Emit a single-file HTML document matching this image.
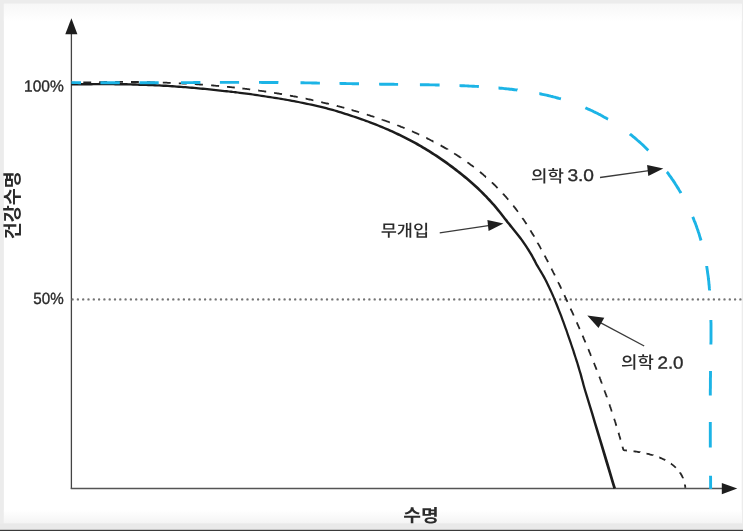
<!DOCTYPE html>
<html lang="ko"><head><meta charset="utf-8"><title>건강수명</title>
<style>
html,body{margin:0;padding:0;background:#fff;}
body{width:743px;height:531px;overflow:hidden;position:relative;font-family:"Liberation Sans","Noto Sans CJK KR",sans-serif;}
svg{position:absolute;left:0;top:0;display:block}
text{font-family:"Liberation Sans","Noto Sans CJK KR",sans-serif;fill:#2b2b2b}
</style></head><body>
<svg width="743" height="531" viewBox="0 0 743 531">
<defs>
<linearGradient id="gt" x1="0" y1="0" x2="0" y2="1"><stop offset="0" stop-color="#f7f7f7"/><stop offset="1" stop-color="#ffffff"/></linearGradient>
<linearGradient id="gb" x1="0" y1="0" x2="0" y2="1"><stop offset="0" stop-color="#ffffff"/><stop offset="1" stop-color="#f4f4f4"/></linearGradient>
</defs>
<rect x="0" y="0" width="743" height="531" fill="#ececec"/>
<rect x="3.9" y="3.8" width="737.8" height="519.6" fill="#ffffff"/>
<rect x="3.9" y="3.8" width="737.8" height="17.5" fill="url(#gt)"/>
<rect x="3.9" y="510" width="737.8" height="13.4" fill="url(#gb)"/>
<rect x="0" y="523.4" width="743" height="6" fill="#e9e9e9"/>
<rect x="0" y="529.8" width="743" height="1.2" fill="#3a3a3a"/>

<!-- axes -->
<line x1="71.4" y1="33" x2="71.4" y2="489" stroke="#444" stroke-width="1.3"/>
<polygon points="71.4,18.2 65.3,34.3 77.4,34.3" fill="#1e1e1e"/>
<line x1="70.8" y1="488.5" x2="723" y2="488.5" stroke="#555" stroke-width="1.5"/>
<polygon points="737.3,488.6 721.8,483.0 721.8,494.3" fill="#1e1e1e"/>

<!-- 50% dotted -->
<line x1="72.6" y1="299.4" x2="743" y2="299.4" stroke="#747474" stroke-width="2.4" stroke-linecap="round" stroke-dasharray="0 5.3"/>

<!-- curves -->
<path d="M71.4,82.8 L71.7,82.8 L72.6,82.7 L73.6,82.7 L74.6,82.7 L75.3,82.6 M83.3,82.4 L83.3,82.4 L84.3,82.4 L85.3,82.4 L86.3,82.4 L87.3,82.3 L88.3,82.3 L89.3,82.3 L90.3,82.3 L91.2,82.3 M99.2,82.1 L99.3,82.1 L100.3,82.1 L101.2,82.1 L102.2,82.1 L103.2,82.1 L104.2,82.0 L105.2,82.0 L106.2,82.0 L107.1,82.0 M115.1,82.0 L115.2,82.0 L116.2,81.9 L117.2,81.9 L118.1,81.9 L119.1,81.9 L120.1,81.9 L121.1,81.9 L122.1,81.9 L123.0,81.9 M131.0,82.0 L131.1,82.0 L132.1,82.0 L133.0,82.0 L134.0,82.0 L135.0,82.0 L136.0,82.0 L137.0,82.0 L138.0,82.0 L138.9,82.1 M146.9,82.2 L146.9,82.2 L147.9,82.2 L148.9,82.2 L149.9,82.2 L150.9,82.3 L151.9,82.3 L152.9,82.3 L153.9,82.3 L154.8,82.4 M162.8,82.6 L162.8,82.6 L163.8,82.6 L164.8,82.7 L165.8,82.7 L166.8,82.7 L167.7,82.8 L168.7,82.8 L169.7,82.9 L170.7,82.9 L170.7,82.9 M178.8,83.3 L178.9,83.3 L179.9,83.3 L180.8,83.4 L181.8,83.4 L182.8,83.5 L183.8,83.5 L184.8,83.6 L185.8,83.6 L186.8,83.7 L186.8,83.7 M194.8,84.2 L194.9,84.2 L195.9,84.2 L196.9,84.3 L197.9,84.4 L198.9,84.4 L199.9,84.5 L200.8,84.6 L201.8,84.6 L202.8,84.7 L202.9,84.7 M211.1,85.4 L211.2,85.4 L212.2,85.4 L213.2,85.5 L214.1,85.6 L215.1,85.7 L216.1,85.8 L217.1,85.9 L218.1,85.9 L219.1,86.0 L219.1,86.0 M227.0,86.8 L227.2,86.8 L228.2,86.9 L229.1,87.0 L230.1,87.1 L231.1,87.2 L232.1,87.3 L233.1,87.4 L234.1,87.5 L234.8,87.6 M242.4,88.5 L242.4,88.5 L243.4,88.6 L244.4,88.7 L245.3,88.8 L246.3,88.9 L247.3,89.1 L248.3,89.2 L249.3,89.3 L250.2,89.4 L250.2,89.4 M258.2,90.5 L258.3,90.5 L259.3,90.7 L260.3,90.8 L261.2,90.9 L262.2,91.1 L263.2,91.2 L264.2,91.4 L265.1,91.5 L266.1,91.7 L266.2,91.7 M274.1,92.9 L274.2,92.9 L275.1,93.1 L276.1,93.2 L277.1,93.4 L278.1,93.5 L279.0,93.7 L280.0,93.9 L281.0,94.0 L282.0,94.2 L282.0,94.2 M289.9,95.6 L290.0,95.6 L291.0,95.8 L291.9,96.0 L292.9,96.2 L293.9,96.3 L294.8,96.5 L295.8,96.7 L296.8,96.9 L297.7,97.1 M305.6,98.7 L305.8,98.7 L306.7,98.9 L307.7,99.1 L308.7,99.3 L309.6,99.5 L310.6,99.7 L311.6,99.9 L312.5,100.2 L313.4,100.3 M321.2,102.1 L321.2,102.1 L322.2,102.3 L323.1,102.6 L324.1,102.8 L325.1,103.0 L326.0,103.3 L327.0,103.5 L328.0,103.7 L328.9,104.0 L328.9,104.0 M336.7,105.9 L336.9,106.0 L337.8,106.2 L338.8,106.5 L339.8,106.7 L340.7,107.0 L341.7,107.2 L342.6,107.5 L343.6,107.7 L344.3,107.9 M351.6,110.0 L351.7,110.0 L352.7,110.3 L353.7,110.6 L354.6,110.8 L355.6,111.1 L356.5,111.4 L357.5,111.7 L358.4,112.0 L359.1,112.2 M366.8,114.5 L366.8,114.5 L367.7,114.8 L368.7,115.1 L369.6,115.4 L370.6,115.8 L371.6,116.1 L372.5,116.4 L373.4,116.7 L374.4,117.0 L374.4,117.0 M382.2,119.6 L382.2,119.7 L383.1,120.0 L384.1,120.3 L385.0,120.7 L386.0,121.0 L386.9,121.3 L387.8,121.7 L388.8,122.0 L389.7,122.4 L389.8,122.4 M397.2,125.2 L397.4,125.3 L398.4,125.7 L399.3,126.0 L400.2,126.4 L401.1,126.8 L402.1,127.1 L403.0,127.5 L403.9,127.9 L404.6,128.2 M411.9,131.3 L412.2,131.4 L413.1,131.8 L414.0,132.2 L414.9,132.6 L415.8,133.0 L416.7,133.4 L417.6,133.8 L418.5,134.2 L419.2,134.6 M426.3,138.0 L426.4,138.0 L427.2,138.4 L428.1,138.9 L429.0,139.3 L429.9,139.7 L430.8,140.2 L431.7,140.6 L432.5,141.1 L433.4,141.6 L433.5,141.6 M440.6,145.4 L440.6,145.4 L441.5,145.9 L442.3,146.4 L443.2,146.9 L444.1,147.4 L444.9,147.9 L445.8,148.4 L446.6,148.8 L447.5,149.3 L447.5,149.4 M454.2,153.4 L454.2,153.4 L455.0,154.0 L455.9,154.5 L456.7,155.0 L457.5,155.6 L458.3,156.1 L459.2,156.6 L460.0,157.2 L460.8,157.7 L460.8,157.8 M467.4,162.3 L467.5,162.4 L468.3,162.9 L469.1,163.5 L469.9,164.1 L470.6,164.7 L471.4,165.2 L472.2,165.8 L473.0,166.4 L473.8,167.0 L473.8,167.0 M479.9,171.9 L479.9,171.9 L480.7,172.5 L481.5,173.2 L482.2,173.8 L483.0,174.4 L483.7,175.1 L484.5,175.7 L485.2,176.3 L485.9,177.0 L486.0,177.0 M491.9,182.4 L492.0,182.5 L492.7,183.1 L493.4,183.8 L494.1,184.5 L494.8,185.2 L495.5,185.9 L496.2,186.6 L496.9,187.3 L497.6,188.0 L497.6,188.0 M503.1,193.7 L503.2,193.9 L503.9,194.6 L504.5,195.4 L505.2,196.1 L505.9,196.8 L506.5,197.6 L507.2,198.3 L507.8,199.1 L508.3,199.6 M513.3,205.7 L513.4,205.8 L514.0,206.6 L514.6,207.3 L515.2,208.1 L515.8,208.9 L516.4,209.7 L517.0,210.5 L517.6,211.3 L518.0,211.8 M522.4,218.0 L522.5,218.2 L523.1,219.0 L523.7,219.8 L524.2,220.6 L524.8,221.4 L525.3,222.3 L525.9,223.1 L526.4,223.9 L526.5,224.1 M530.4,230.3 L530.5,230.5 L531.0,231.3 L531.5,232.2 L532.0,233.0 L532.5,233.9 L533.1,234.7 L533.6,235.6 L534.1,236.4 L534.1,236.6 M537.7,242.8 L537.7,242.9 L538.2,243.8 L538.7,244.6 L539.2,245.5 L539.7,246.4 L540.2,247.2 L540.6,248.1 L541.1,249.0 L541.2,249.1 M544.6,255.6 L544.7,255.8 L545.2,256.6 L545.7,257.5 L546.1,258.4 L546.6,259.3 L547.1,260.1 L547.5,261.0 L548.0,261.9 L548.1,262.1 M551.5,268.7 L551.5,268.7 L551.9,269.6 L552.4,270.5 L552.8,271.4 L553.3,272.3 L553.7,273.1 L554.2,274.0 L554.6,274.9 L554.8,275.4 M558.1,282.1 L558.2,282.3 L558.6,283.1 L559.1,284.0 L559.5,284.9 L559.9,285.8 L560.4,286.7 L560.8,287.6 L561.2,288.5 L561.3,288.7 M564.4,295.2 L564.5,295.4 L564.9,296.3 L565.3,297.2 L565.8,298.1 L566.2,299.0 L566.6,299.9 L567.0,300.8 L567.4,301.7 L567.5,301.9 M570.6,308.7 L570.6,308.7 L571.0,309.6 L571.4,310.5 L571.9,311.4 L572.3,312.3 L572.7,313.2 L573.1,314.1 L573.5,315.0 L573.7,315.5 M576.7,322.3 L576.8,322.5 L577.2,323.4 L577.6,324.3 L578.0,325.2 L578.4,326.1 L578.8,327.0 L579.2,327.9 L579.6,328.8 L579.7,329.0 M582.6,335.7 L582.7,335.9 L583.1,336.8 L583.5,337.7 L583.8,338.6 L584.2,339.5 L584.6,340.4 L585.0,341.3 L585.4,342.2 L585.5,342.4 M588.3,349.1 L588.4,349.3 L588.8,350.2 L589.1,351.2 L589.5,352.1 L589.9,353.0 L590.3,353.9 L590.6,354.8 L591.0,355.7 L591.1,355.9 M593.9,362.9 L594.0,363.1 L594.4,364.0 L594.7,364.9 L595.1,365.8 L595.5,366.8 L595.8,367.7 L596.2,368.6 L596.5,369.5 L596.6,369.8 M599.3,376.7 L599.4,376.9 L599.8,377.8 L600.1,378.8 L600.5,379.7 L600.8,380.6 L601.2,381.6 L601.5,382.5 L601.9,383.4 L601.9,383.6 M604.4,390.4 L604.5,390.6 L604.8,391.5 L605.2,392.5 L605.5,393.4 L605.9,394.3 L606.2,395.3 L606.5,396.2 L606.9,397.1 L606.9,397.3 M609.4,404.4 L609.4,404.4 L609.7,405.3 L610.0,406.3 L610.3,407.2 L610.7,408.1 L611.0,409.1 L611.3,410.0 L611.6,411.0 L611.8,411.5 M614.2,418.7 L614.2,418.7 L614.5,419.7 L614.8,420.6 L615.1,421.6 L615.4,422.5 L615.7,423.5 L615.9,424.4 L616.2,425.3 L616.4,425.8 M618.5,432.8 L618.6,432.9 L618.8,433.9 L619.1,434.8 L619.4,435.8 L619.7,436.7 L620.0,437.7 L620.2,438.6 L620.5,439.6 L620.6,439.7 M622.5,446.7 L622.5,446.8 L622.8,447.7 L623.1,448.7 L623.3,449.6 L623.9,450.2 L624.6,450.3 L625.3,450.3 L626.1,450.4 L626.8,450.5 L626.9,450.5 M633.5,451.3 L633.7,451.3 L634.5,451.4 L635.2,451.5 L636.0,451.6 L636.8,451.7 L637.6,451.8 L638.4,452.0 L639.2,452.1 L640.0,452.2 L640.1,452.3 M646.5,453.6 L646.6,453.6 L647.4,453.8 L648.2,453.9 L649.0,454.1 L649.7,454.4 L650.5,454.6 L651.3,454.8 L652.1,455.0 L652.9,455.2 L652.9,455.3 M659.3,457.5 L659.4,457.5 L660.2,457.8 L660.9,458.1 L661.6,458.4 L662.4,458.7 L663.1,459.1 L663.8,459.4 L664.5,459.8 L665.2,460.1 L665.3,460.2 M670.9,463.6 L671.1,463.7 L671.7,464.2 L672.3,464.6 L672.9,465.1 L673.5,465.6 L674.1,466.1 L674.7,466.6 L675.2,467.1 L675.8,467.6 L675.9,467.7 M680.0,472.6 L680.0,472.7 L680.5,473.3 L680.9,474.0 L681.3,474.7 L681.6,475.3 L682.0,476.0 L682.3,476.7 L682.7,477.4 L683.0,478.1 L683.0,478.2 M684.9,484.5 L684.9,484.6 L685.0,485.5 L685.2,486.3 L685.3,487.2 L685.4,487.9" fill="none" stroke="#262626" stroke-width="1.8"/>
<path d="M71.4,85.6 L73.6,85.6 L75.8,85.6 L78.1,85.5 L80.3,85.5 L82.5,85.4 L84.7,85.4 L86.9,85.4 L89.1,85.4 L91.3,85.4 L93.5,85.3 L95.7,85.3 L97.9,85.3 L100.1,85.3 L102.3,85.3 L104.5,85.3 L106.7,85.3 L108.9,85.3 L111.1,85.3 L113.3,85.3 L115.4,85.4 L117.6,85.4 L119.8,85.4 L122.0,85.4 L124.2,85.5 L126.4,85.5 L128.6,85.6 L130.8,85.6 L133.0,85.7 L135.2,85.7 L137.3,85.8 L139.5,85.9 L141.7,85.9 L143.9,86.0 L146.1,86.1 L148.3,86.2 L150.5,86.2 L152.6,86.3 L154.8,86.4 L157.0,86.5 L159.2,86.6 L161.4,86.7 L163.5,86.9 L165.7,87.0 L167.9,87.1 L170.1,87.3 L172.3,87.4 L174.4,87.5 L176.6,87.7 L178.8,87.9 L181.0,88.0 L183.1,88.2 L185.3,88.3 L187.5,88.5 L189.7,88.7 L191.9,88.9 L194.0,89.1 L196.2,89.3 L198.4,89.5 L200.6,89.7 L202.7,89.9 L204.9,90.1 L207.1,90.3 L209.3,90.5 L211.4,90.7 L213.6,91.0 L215.8,91.2 L217.9,91.5 L220.1,91.7 L222.3,91.9 L224.5,92.2 L226.7,92.4 L228.8,92.6 L231.0,92.9 L233.2,93.1 L235.3,93.4 L237.5,93.6 L239.7,93.9 L241.9,94.2 L244.0,94.5 L246.2,94.7 L248.4,95.0 L250.5,95.3 L252.7,95.6 L254.9,95.9 L257.1,96.3 L259.2,96.6 L261.4,96.9 L263.6,97.2 L265.7,97.6 L267.9,97.9 L270.1,98.3 L272.3,98.6 L274.4,98.9 L276.6,99.3 L278.8,99.6 L280.9,100.0 L283.1,100.3 L285.2,100.7 L287.4,101.1 L289.6,101.5 L291.7,101.9 L293.9,102.3 L296.0,102.7 L298.2,103.1 L300.3,103.5 L302.5,104.0 L304.6,104.4 L306.8,104.9 L308.9,105.3 L311.0,105.8 L313.2,106.3 L315.3,106.8 L317.4,107.3 L319.6,107.8 L321.7,108.3 L323.8,108.8 L325.9,109.3 L328.0,109.9 L330.1,110.4 L332.2,111.0 L334.3,111.6 L336.4,112.3 L338.5,112.9 L340.6,113.5 L342.7,114.2 L344.8,114.9 L346.9,115.5 L349.0,116.2 L351.1,116.9 L353.1,117.6 L355.2,118.3 L357.3,119.0 L359.3,119.7 L361.4,120.4 L363.4,121.1 L365.5,121.9 L367.5,122.6 L369.6,123.4 L371.6,124.2 L373.6,125.0 L375.6,125.8 L377.7,126.6 L379.7,127.4 L381.7,128.2 L383.7,129.1 L385.7,129.9 L387.7,130.8 L389.6,131.7 L391.6,132.6 L393.6,133.5 L395.6,134.4 L397.5,135.4 L399.5,136.3 L401.4,137.3 L403.4,138.2 L405.3,139.2 L407.2,140.2 L409.2,141.2 L411.1,142.2 L413.0,143.3 L414.9,144.3 L416.8,145.4 L418.7,146.5 L420.6,147.6 L422.4,148.7 L424.3,149.8 L426.2,150.9 L428.0,152.1 L429.9,153.3 L431.7,154.4 L433.5,155.6 L435.4,156.8 L437.2,158.0 L439.0,159.3 L440.8,160.5 L442.6,161.8 L444.4,163.0 L446.2,164.3 L448.0,165.6 L449.8,166.9 L451.6,168.2 L453.3,169.6 L455.1,170.9 L456.9,172.3 L458.7,173.7 L460.4,175.1 L462.2,176.5 L463.9,177.9 L465.7,179.3 L467.4,180.8 L469.1,182.2 L470.8,183.7 L472.5,185.2 L474.1,186.7 L475.8,188.2 L477.4,189.7 L479.0,191.3 L480.6,192.8 L482.2,194.4 L483.7,196.0 L485.3,197.6 L486.8,199.2 L488.4,200.9 L489.9,202.5 L491.4,204.2 L492.9,205.8 L494.3,207.5 L495.8,209.2 L497.1,210.9 L498.5,212.6 L499.9,214.3 L501.2,216.0 L502.6,217.7 L503.9,219.4 L505.3,221.2 L506.6,222.9 L508.0,224.6 L509.4,226.4 L510.8,228.1 L512.2,229.8 L513.6,231.6 L515.0,233.3 L516.4,235.0 L517.8,236.7 L519.1,238.4 L520.4,240.1 L521.6,241.8 L522.8,243.6 L524.0,245.3 L525.2,247.0 L526.3,248.8 L527.4,250.5 L528.5,252.3 L529.6,254.0 L530.6,255.8 L531.6,257.6 L532.6,259.4 L533.6,261.2 L534.5,263.0 L535.5,264.9 L536.6,266.8 L537.8,268.7 L538.9,270.6 L540.0,272.4 L541.1,274.3 L542.2,276.3 L543.3,278.2 L544.3,280.1 L545.3,282.0 L546.3,284.0 L547.2,285.9 L548.2,287.9 L549.1,289.9 L550.0,291.8 L550.9,293.8 L551.8,295.8 L552.7,297.8 L553.5,299.8 L554.4,301.9 L555.2,303.9 L556.0,305.9 L556.8,307.9 L557.6,310.0 L558.4,312.0 L559.2,314.1 L560.0,316.1 L560.8,318.2 L561.5,320.2 L562.3,322.3 L563.1,324.4 L563.8,326.4 L564.5,328.5 L565.3,330.6 L566.0,332.6 L566.7,334.7 L567.4,336.8 L568.2,338.9 L568.9,340.9 L569.6,343.0 L570.3,345.1 L571.0,347.2 L571.7,349.2 L572.4,351.3 L573.0,353.4 L573.7,355.5 L574.4,357.5 L575.0,359.6 L575.7,361.7 L576.4,363.8 L577.0,365.9 L577.6,368.0 L578.2,370.1 L578.9,372.2 L579.5,374.2 L580.0,376.3 L580.6,378.5 L581.2,380.6 L581.8,382.7 L582.3,384.8 L583.8,390.0 L586.3,398.3 L588.8,406.6 L591.3,414.8 L593.7,423.1 L596.2,431.4 L599.3,441.8 L602.4,452.3 L605.5,462.8 L608.7,473.2 L611.8,483.7 L613.4,488.9 L616.0,488.1 L614.4,482.9 L611.3,472.4 L608.2,462.0 L605.0,451.5 L601.8,441.1 L598.6,430.6 L596.1,422.4 L593.6,414.1 L591.1,405.9 L588.5,397.6 L586.0,389.4 L584.5,384.2 L584.0,382.1 L583.4,380.0 L582.8,377.8 L582.3,375.7 L581.7,373.6 L581.0,371.5 L580.4,369.4 L579.8,367.3 L579.2,365.2 L578.5,363.1 L577.9,361.0 L577.2,358.9 L576.5,356.9 L575.8,354.8 L575.2,352.7 L574.5,350.6 L573.8,348.5 L573.1,346.4 L572.4,344.4 L571.7,342.3 L571.0,340.2 L570.2,338.1 L569.5,336.1 L568.8,334.0 L568.1,331.9 L567.4,329.8 L566.6,327.8 L565.9,325.7 L565.1,323.6 L564.4,321.5 L563.6,319.5 L562.9,317.4 L562.1,315.3 L561.3,313.3 L560.5,311.2 L559.7,309.2 L558.9,307.1 L558.1,305.1 L557.3,303.0 L556.4,301.0 L555.6,299.0 L554.7,296.9 L553.9,294.9 L553.0,292.9 L552.1,290.9 L551.2,288.9 L550.2,286.9 L549.3,284.9 L548.3,283.0 L547.4,281.0 L546.3,279.0 L545.3,277.1 L544.2,275.1 L543.1,273.2 L542.0,271.3 L540.9,269.4 L539.7,267.5 L538.6,265.6 L537.5,263.8 L536.6,262.0 L535.7,260.1 L534.7,258.3 L533.7,256.4 L532.7,254.6 L531.6,252.8 L530.5,251.0 L529.5,249.2 L528.3,247.5 L527.2,245.7 L526.0,243.9 L524.8,242.2 L523.6,240.4 L522.3,238.7 L521.1,236.9 L519.7,235.2 L518.3,233.5 L516.9,231.7 L515.5,230.0 L514.1,228.3 L512.7,226.5 L511.4,224.8 L510.0,223.1 L508.6,221.4 L507.3,219.6 L505.9,217.9 L504.6,216.2 L503.2,214.4 L501.9,212.7 L500.5,211.0 L499.1,209.3 L497.7,207.5 L496.3,205.8 L494.8,204.1 L493.3,202.4 L491.8,200.8 L490.3,199.1 L488.7,197.5 L487.2,195.8 L485.6,194.2 L484.0,192.6 L482.4,191.0 L480.8,189.4 L479.2,187.8 L477.6,186.3 L475.9,184.7 L474.2,183.2 L472.5,181.7 L470.8,180.2 L469.1,178.7 L467.4,177.3 L465.6,175.8 L463.9,174.4 L462.1,173.0 L460.3,171.5 L458.5,170.2 L456.8,168.8 L455.0,167.4 L453.2,166.1 L451.4,164.7 L449.6,163.4 L447.8,162.1 L446.0,160.8 L444.2,159.5 L442.3,158.3 L440.5,157.0 L438.7,155.8 L436.9,154.6 L435.0,153.4 L433.2,152.2 L431.3,151.0 L429.4,149.8 L427.6,148.7 L425.7,147.5 L423.8,146.4 L421.9,145.3 L420.0,144.2 L418.1,143.1 L416.2,142.1 L414.2,141.0 L412.3,140.0 L410.4,138.9 L408.4,137.9 L406.5,136.9 L404.5,136.0 L402.5,135.0 L400.6,134.0 L398.6,133.1 L396.6,132.2 L394.6,131.2 L392.6,130.3 L390.6,129.5 L388.6,128.6 L386.6,127.7 L384.6,126.9 L382.6,126.0 L380.6,125.2 L378.6,124.4 L376.5,123.5 L374.5,122.7 L372.4,122.0 L370.4,121.2 L368.3,120.4 L366.3,119.7 L364.2,118.9 L362.2,118.2 L360.1,117.5 L358.0,116.7 L355.9,116.0 L353.9,115.4 L351.8,114.7 L349.7,114.0 L347.6,113.3 L345.5,112.7 L343.4,112.0 L341.3,111.3 L339.2,110.7 L337.1,110.1 L335.0,109.4 L332.9,108.8 L330.7,108.2 L328.6,107.7 L326.5,107.1 L324.3,106.6 L322.2,106.1 L320.1,105.6 L317.9,105.1 L315.8,104.6 L313.7,104.1 L311.5,103.6 L309.4,103.2 L307.2,102.7 L305.1,102.3 L302.9,101.8 L300.8,101.4 L298.6,100.9 L296.4,100.5 L294.3,100.1 L292.1,99.7 L290.0,99.3 L287.8,98.9 L285.6,98.5 L283.5,98.2 L281.3,97.8 L279.1,97.4 L276.9,97.1 L274.8,96.7 L272.6,96.4 L270.4,96.1 L268.3,95.7 L266.1,95.4 L263.9,95.0 L261.7,94.7 L259.6,94.4 L257.4,94.0 L255.2,93.7 L253.0,93.4 L250.9,93.1 L248.7,92.8 L246.5,92.5 L244.3,92.2 L242.1,91.9 L240.0,91.7 L237.8,91.4 L235.6,91.1 L233.4,90.9 L231.3,90.6 L229.1,90.4 L226.9,90.1 L224.7,89.9 L222.5,89.7 L220.4,89.4 L218.2,89.2 L216.0,88.9 L213.9,88.7 L211.7,88.5 L209.5,88.2 L207.3,88.0 L205.1,87.8 L203.0,87.6 L200.8,87.4 L198.6,87.2 L196.4,87.0 L194.2,86.8 L192.1,86.6 L189.9,86.4 L187.7,86.2 L185.5,86.0 L183.3,85.9 L181.1,85.7 L179.0,85.5 L176.8,85.4 L174.6,85.2 L172.4,85.1 L170.2,84.9 L168.0,84.8 L165.9,84.6 L163.7,84.5 L161.5,84.4 L159.3,84.3 L157.1,84.2 L154.9,84.1 L152.7,84.0 L150.5,83.9 L148.4,83.8 L146.2,83.7 L144.0,83.6 L141.8,83.5 L139.6,83.5 L137.4,83.4 L135.2,83.3 L133.0,83.3 L130.8,83.2 L128.6,83.2 L126.4,83.1 L124.3,83.1 L122.1,83.0 L119.9,83.0 L117.7,82.9 L115.5,82.9 L113.3,82.9 L111.1,82.9 L108.9,82.9 L106.7,82.9 L104.5,82.9 L102.3,82.8 L100.1,82.8 L97.9,82.9 L95.7,82.9 L93.5,82.9 L91.3,82.9 L89.1,82.9 L86.8,82.9 L84.6,82.9 L82.4,83.0 L80.2,83.0 L78.0,83.0 L75.8,83.1 L73.6,83.1 L71.4,83.1Z" fill="#1c1c1c" stroke="none"/>
<path d="M71.5,82.6 L71.7,82.6 L73.2,82.6 L74.6,82.6 L76.0,82.6 L77.4,82.6 L78.9,82.7 L80.3,82.7 L81.0,82.7 M100.4,82.8 L100.6,82.8 L102.1,82.8 L103.5,82.8 L104.9,82.8 L106.3,82.8 L107.8,82.8 L109.2,82.8 L110.6,82.8 L112.0,82.8 L113.4,82.8 L114.9,82.8 L116.3,82.8 L117.7,82.8 L119.1,82.8 L119.8,82.8 M139.5,82.8 L139.8,82.8 L141.2,82.8 L142.6,82.8 L144.0,82.8 L145.4,82.8 L146.9,82.8 L148.3,82.8 L149.7,82.8 L151.1,82.8 L152.6,82.8 L154.0,82.7 L155.4,82.7 L156.8,82.7 L158.2,82.7 L158.7,82.7 M181.0,82.6 L181.2,82.6 L182.7,82.6 L184.1,82.6 L185.5,82.6 L186.9,82.6 L188.4,82.6 L189.8,82.6 L191.2,82.6 L192.6,82.6 L194.0,82.5 L195.5,82.5 L196.9,82.5 L198.3,82.5 L199.7,82.5 L200.4,82.5 M219.9,82.4 L220.1,82.4 L221.5,82.4 L223.0,82.4 L224.4,82.4 L225.8,82.4 L227.2,82.4 L228.7,82.4 L230.1,82.4 L231.5,82.4 L232.9,82.4 L234.3,82.4 L235.8,82.4 L237.2,82.4 L238.6,82.4 L239.1,82.4 M259.0,82.4 L259.2,82.4 L260.7,82.4 L262.1,82.5 L263.5,82.5 L264.9,82.5 L266.3,82.5 L267.8,82.5 L269.2,82.5 L270.6,82.5 L272.0,82.5 L273.5,82.5 L274.9,82.5 L276.3,82.5 L277.7,82.5 L278.4,82.6 M300.5,82.8 L300.7,82.8 L302.1,82.8 L303.5,82.8 L305.0,82.9 L306.4,82.9 L307.8,82.9 L309.2,82.9 L310.6,82.9 L312.1,83.0 L313.5,83.0 L314.9,83.0 L316.3,83.0 L317.8,83.1 L319.2,83.1 L319.9,83.1 M339.5,83.4 L339.8,83.4 L341.2,83.5 L342.6,83.5 L344.0,83.5 L345.5,83.5 L346.9,83.6 L348.3,83.6 L349.7,83.6 L351.2,83.6 L352.6,83.7 L354.0,83.7 L355.4,83.7 L356.8,83.7 L358.3,83.8 L359.0,83.8 M379.1,84.1 L379.4,84.1 L380.8,84.2 L382.2,84.2 L383.6,84.2 L385.0,84.2 L386.5,84.2 L387.9,84.3 L389.3,84.3 L390.7,84.3 L392.2,84.3 L393.6,84.3 L395.0,84.4 L396.4,84.4 L397.8,84.4 L398.1,84.4 M419.9,84.7 L420.1,84.7 L421.6,84.7 L423.0,84.7 L424.4,84.8 L425.8,84.8 L427.3,84.8 L428.7,84.8 L430.1,84.9 L431.5,84.9 L432.9,84.9 L434.4,84.9 L435.8,85.0 L437.2,85.0 L438.6,85.0 L439.6,85.0 M459.5,85.6 L459.7,85.6 L461.2,85.7 L462.6,85.7 L464.0,85.8 L465.4,85.9 L466.8,85.9 L468.3,86.0 L469.7,86.1 L471.1,86.1 L472.5,86.2 L473.9,86.3 L475.4,86.4 L476.8,86.4 L478.2,86.5 L478.9,86.6 M498.5,88.0 L498.8,88.0 L500.2,88.2 L501.6,88.3 L503.0,88.4 L504.4,88.6 L505.8,88.7 L507.3,88.9 L508.7,89.0 L510.1,89.2 L511.5,89.3 L512.9,89.5 L514.3,89.7 L515.7,89.9 L517.2,90.0 L517.4,90.1 M539.3,93.7 L539.6,93.7 L541.0,94.0 L542.4,94.3 L543.7,94.6 L545.1,94.9 L546.5,95.2 L547.9,95.5 L549.3,95.8 L550.6,96.2 L552.0,96.5 L553.4,96.9 L554.8,97.2 L556.1,97.6 L557.5,98.0 L558.9,98.4 L560.2,98.7 L560.9,98.9 M585.4,107.8 L585.6,107.9 L586.9,108.5 L588.2,109.1 L589.5,109.6 L590.8,110.2 L592.1,110.8 L593.4,111.5 L594.7,112.1 L596.0,112.7 L597.2,113.3 L598.5,114.0 L599.8,114.6 L601.0,115.3 L602.3,116.0 L603.5,116.7 L604.8,117.4 L606.0,118.1 L607.2,118.8 L608.1,119.2 M629.9,134.0 L630.0,134.1 L631.2,135.0 L632.3,135.9 L633.4,136.8 L634.5,137.7 L635.6,138.6 L636.6,139.5 L637.7,140.5 L638.8,141.4 L639.9,142.3 L640.9,143.3 L642.0,144.3 L643.0,145.2 L644.1,146.2 L645.1,147.2 L646.1,148.2 L647.1,149.2 L648.1,150.2 L648.3,150.4 M666.9,171.9 L667.1,172.1 L667.9,173.2 L668.8,174.4 L669.6,175.6 L670.4,176.7 L671.3,177.9 L672.1,179.1 L672.9,180.2 L673.7,181.4 L674.5,182.6 L675.2,183.8 L676.0,185.0 L676.8,186.2 L677.5,187.4 L678.3,188.6 L679.0,189.9 L679.7,191.1 L680.5,192.3 L680.9,193.1 M692.7,216.9 L692.8,217.1 L693.4,218.4 L693.9,219.8 L694.4,221.1 L695.0,222.4 L695.5,223.7 L696.0,225.1 L696.5,226.4 L696.9,227.7 L697.4,229.1 L697.9,230.4 L698.3,231.7 L698.8,233.1 L699.2,234.4 L699.6,235.8 L700.0,237.1 L700.4,238.5 L700.8,239.8 L701.0,240.5 M706.7,266.0 L706.7,266.2 L706.9,267.6 L707.1,269.0 L707.3,270.4 L707.5,271.8 L707.7,273.2 L707.9,274.6 L708.1,276.0 L708.3,277.4 L708.4,278.8 L708.6,280.2 L708.8,281.6 L708.9,283.1 L709.0,284.5 L709.2,285.9 L709.3,287.3 L709.4,288.7 L709.6,290.1 L709.6,290.6 M710.9,320.0 L710.9,320.3 L710.9,321.7 L711.0,323.1 L711.0,324.6 L711.0,326.0 L711.0,327.4 L711.0,328.9 L711.0,330.3 L711.0,331.7 L711.0,333.2 L711.0,334.6 L711.0,336.1 L711.0,337.5 L711.0,338.9 L711.0,340.4 L711.0,341.8 L710.9,343.2 L710.9,344.4 M710.5,370.9 L710.5,371.1 L710.5,372.6 L710.5,374.0 L710.5,375.4 L710.5,376.8 L710.4,378.3 L710.4,379.7 L710.4,381.1 L710.4,382.5 L710.4,384.0 L710.4,385.4 L710.4,386.8 L710.4,388.2 L710.3,389.6 L710.3,391.1 L710.3,392.5 L710.3,393.9 L710.3,395.3 L710.3,395.5 M710.3,422.0 L710.3,422.2 L710.3,423.6 L710.3,425.0 L710.3,426.4 L710.3,427.9 L710.3,429.3 L710.3,430.7 L710.3,432.1 L710.3,433.5 L710.3,434.9 L710.3,436.4 L710.3,437.8 L710.3,439.2 L710.3,440.6 L710.3,442.0 L710.3,443.4 L710.3,444.9 L710.3,446.3 L710.3,447.4 M710.5,475.7 L710.5,475.9 L710.6,477.3 L710.6,478.8 L710.6,480.2 L710.6,481.6 L710.6,483.0 L710.6,484.5 L710.6,485.9 L710.6,487.3 L710.6,488.8 L710.6,489.0" fill="none" stroke="#1cb4e6" stroke-width="2.9"/>

<!-- annotation arrows -->
<line x1="439.7" y1="232.9" x2="490" y2="225.3" stroke="#3a3a3a" stroke-width="1.35"/>
<polygon points="503.4,223.4 487.4,219.9 488.6,231.1" fill="#1e1e1e"/>
<line x1="600" y1="177.5" x2="649" y2="170.7" stroke="#3a3a3a" stroke-width="1.35"/>
<polygon points="663.3,168.5 647.1,165 648.3,175.9" fill="#1e1e1e"/>
<line x1="644.2" y1="346" x2="598" y2="321.4" stroke="#3a3a3a" stroke-width="1.35"/>
<polygon points="587.3,315.4 604.3,317.7 598.5,328.1" fill="#1e1e1e"/>

<!-- labels -->
<text transform="translate(24.0,91.4) rotate(0.03) scale(0.972,1)" font-size="16.0" font-weight="400" fill="#2b2b2b" stroke="#2b2b2b" stroke-width="0.35">100%</text>
<text transform="translate(33.35,304.05) rotate(0.03) scale(0.936,1)" font-size="16.2" font-weight="400" fill="#2b2b2b" stroke="#2b2b2b" stroke-width="0.35">50%</text>
<text transform="translate(380.66,236.4) rotate(0.03) scale(1.06,1)" font-size="16.61" font-weight="500" fill="#2b2b2b">무개입</text>
<text transform="translate(530.97,181.9) rotate(0.03) scale(1.076,1)" font-size="16.61" font-weight="500" fill="#2b2b2b">의학</text>
<text transform="translate(567.38,181.1) rotate(0.03) scale(1.135,1)" font-size="16.9" font-weight="400" fill="#2b2b2b" stroke="#2b2b2b" stroke-width="0.35">3.0</text>
<text transform="translate(620.97,368.29) rotate(0.03) scale(1.069,1)" font-size="16.71" font-weight="500" fill="#2b2b2b">의학</text>
<text transform="translate(657.44,368.4) rotate(0.03) scale(1.093,1)" font-size="17.2" font-weight="400" fill="#2b2b2b" stroke="#2b2b2b" stroke-width="0.35">2.0</text>
<text transform="translate(403.17,521.87) rotate(0.03) scale(1.084,1)" font-size="17.83" font-weight="700" fill="#1f1f1f">수명</text>
<text transform="translate(19.13,239.24) rotate(-90) scale(1.02,1)" font-size="18.14" font-weight="700" fill="#1f1f1f">건강수명</text>
</svg>
</body></html>
